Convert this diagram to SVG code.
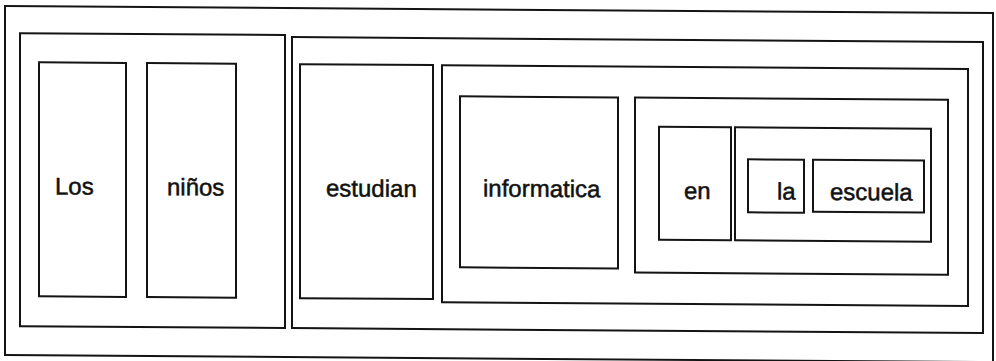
<svg xmlns="http://www.w3.org/2000/svg" width="996" height="361" viewBox="0 0 996 361">
<style>
.box{fill:none;stroke:#141414;stroke-width:2}
.lbl{font-family:"Liberation Sans",Arial,Helvetica,sans-serif;font-size:24px;fill:#111;stroke:#111;stroke-width:0.5}
</style>
<rect width="996" height="361" fill="#fff"/>
<g transform="skewY(0.41)">
<g id="frame"><rect class="box" x="5" y="6" width="988" height="349"/></g>
<g id="sujeto">
<rect class="box" x="20" y="33" width="265" height="293"/>
<g id="los"><rect class="box" x="39" y="62" width="87" height="234"/><text class="lbl" x="55" y="194">Los</text></g>
<g id="ninos"><rect class="box" x="147" y="62" width="89" height="234"/><text class="lbl" x="167" y="194">niños</text></g>
</g>
<g id="predicado">
<rect class="box" x="292" y="35" width="691" height="291"/>
<g id="estudian"><rect class="box" x="300" y="62" width="133" height="234"/><text class="lbl" x="326" y="194">estudian</text></g>
<g id="complementos">
<rect class="box" x="442" y="62" width="526" height="237"/>
<g id="informatica"><rect class="box" x="460" y="93" width="158" height="171"/><text class="lbl" x="483" y="193">informatica</text></g>
<g id="sintagma-prep">
<rect class="box" x="635" y="93" width="313" height="175"/>
<g id="en"><rect class="box" x="659" y="122" width="72" height="113"/><text class="lbl" x="684" y="194">en</text></g>
<g id="sintagma-nom">
<rect class="box" x="735" y="122" width="196" height="113"/>
<g id="la"><rect class="box" x="748" y="154" width="56" height="53"/><text class="lbl" x="777" y="194">la</text></g>
<g id="escuela"><rect class="box" x="813" y="154" width="111" height="52"/><text class="lbl" x="830" y="194">escuela</text></g>
</g>
</g>
</g>
</g>
</g>
</svg>
